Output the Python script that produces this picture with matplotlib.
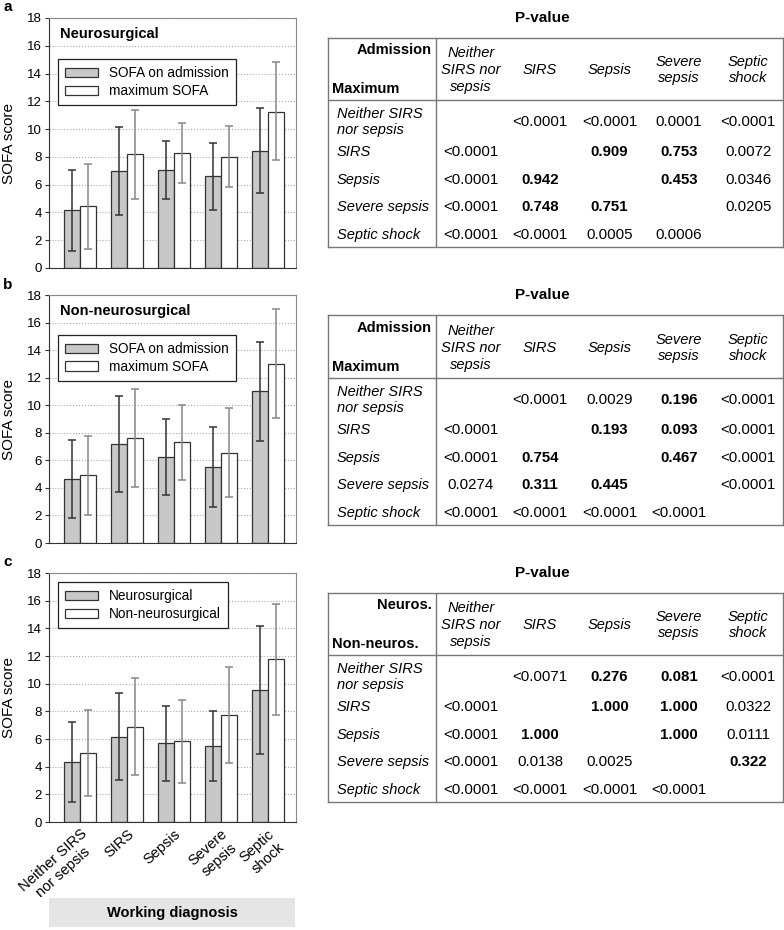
import numpy as np
import matplotlib
matplotlib.use('Agg')
import matplotlib.pyplot as plt

plt.rcParams['font.family'] = ['Liberation Sans', 'DejaVu Sans']

# categories
diagnoses = ['Neither SIRS\nnor sepsis', 'SIRS', 'Sepsis', 'Severe\nsepsis', 'Septic\nshock']
tab_labels = ['Neither\nSIRS nor\nsepsis', 'SIRS', 'Sepsis', 'Severe\nsepsis', 'Septic\nshock']
row_labels = ['Neither SIRS\nnor sepsis', 'SIRS', 'Sepsis', 'Severe sepsis', 'Septic shock']

# panel a: neurosurgical, mean and error bar ends
a_adm = [4.15, 7.0, 7.05, 6.6, 8.45]
a_adm_lo = [1.2, 3.85, 4.95, 4.2, 5.4]
a_adm_hi = [7.05, 10.15, 9.15, 9.0, 11.5]
a_max = [4.45, 8.2, 8.3, 8.0, 11.25]
a_max_lo = [1.4, 5.0, 6.1, 5.8, 7.75]
a_max_hi = [7.5, 11.4, 10.45, 10.2, 14.8]

# panel b: non-neurosurgical
b_adm = [4.65, 7.2, 6.25, 5.5, 11.0]
b_adm_lo = [1.85, 3.7, 3.5, 2.6, 7.4]
b_adm_hi = [7.45, 10.7, 9.0, 8.45, 14.6]
b_max = [4.95, 7.6, 7.3, 6.55, 13.0]
b_max_lo = [2.05, 4.1, 4.55, 3.35, 9.05]
b_max_hi = [7.8, 11.15, 10.05, 9.8, 17.0]

# panel c: neurosurgical vs non-neurosurgical
c_neu = [4.35, 6.15, 5.7, 5.5, 9.55]
c_neu_lo = [1.45, 3.05, 2.95, 2.95, 4.9]
c_neu_hi = [7.25, 9.3, 8.4, 8.0, 14.2]
c_non = [5.0, 6.9, 5.85, 7.75, 11.75]
c_non_lo = [1.9, 3.4, 2.8, 4.3, 7.7]
c_non_hi = [8.1, 10.4, 8.85, 11.2, 15.75]

# p-value tables (rows x columns), '' = diagonal
p_a = [['', '<0.0001', '<0.0001', '0.0001', '<0.0001'],
       ['<0.0001', '', '0.909', '0.753', '0.0072'],
       ['<0.0001', '0.942', '', '0.453', '0.0346'],
       ['<0.0001', '0.748', '0.751', '', '0.0205'],
       ['<0.0001', '<0.0001', '0.0005', '0.0006', '']]
p_b = [['', '<0.0001', '0.0029', '0.196', '<0.0001'],
       ['<0.0001', '', '0.193', '0.093', '<0.0001'],
       ['<0.0001', '0.754', '', '0.467', '<0.0001'],
       ['0.0274', '0.311', '0.445', '', '<0.0001'],
       ['<0.0001', '<0.0001', '<0.0001', '<0.0001', '']]
p_c = [['', '<0.0071', '0.276', '0.081', '<0.0001'],
       ['<0.0001', '', '1.000', '1.000', '0.0322'],
       ['<0.0001', '1.000', '', '1.000', '0.0111'],
       ['<0.0001', '0.0138', '0.0025', '', '0.322'],
       ['<0.0001', '<0.0001', '<0.0001', '<0.0001', '']]

W, H = 784, 930
fig = plt.figure(figsize=(W / 100, H / 100), dpi=100)


def px_axes(left, top, right, bottom):
    return fig.add_axes([left / W, 1 - bottom / H, (right - left) / W, (bottom - top) / H])


def bar_panel(ax, s1, lo1, hi1, s2, lo2, hi2, names, title, legend_y, show_x):
    x = np.arange(len(s1))
    w = 0.335
    s1 = np.array(s1); s2 = np.array(s2)
    ax.bar(x - w / 2, s1, w, color='#c8c8c8', edgecolor='#333333', linewidth=0.9, label=names[0], zorder=2)
    ax.bar(x + w / 2, s2, w, color='white', edgecolor='#333333', linewidth=0.9, label=names[1], zorder=2)
    ax.errorbar(x - w / 2, s1, yerr=[s1 - np.array(lo1), np.array(hi1) - s1], fmt='none',
                ecolor='#333333', elinewidth=1.1, capsize=3, capthick=1.1, zorder=3)
    ax.errorbar(x + w / 2, s2, yerr=[s2 - np.array(lo2), np.array(hi2) - s2], fmt='none',
                ecolor='#888888', elinewidth=1.1, capsize=3, capthick=1.1, zorder=3)
    ax.set_xlim(-0.66, 4.6)
    ax.set_ylim(0, 18)
    ax.set_yticks(np.arange(0, 19, 2))
    ax.yaxis.grid(True, linestyle=':', color='#aaaaaa', linewidth=0.8)
    ax.set_axisbelow(True)
    ax.tick_params(axis='y', labelsize=9.5, length=3, color='#333333', pad=2)
    ax.tick_params(axis='x', length=0)
    for s in ['left', 'bottom']:
        ax.spines[s].set_color('#333333')
    for s in ['top', 'right']:
        ax.spines[s].set_color('#888888')
    ax.set_ylabel('SOFA score', fontsize=11)
    ax.yaxis.set_label_coords(-0.132, 0.5)
    if show_x:
        ax.set_xticks(x)
        ax.set_xticklabels(diagnoses, rotation=42, ha='right', rotation_mode='anchor',
                           multialignment='center', fontsize=10.5)
    else:
        ax.set_xticks([])
    if title:
        ax.text(0.045, 0.935, title, transform=ax.transAxes, fontsize=10.5, fontweight='bold', va='center')
    leg = ax.legend(loc='upper left', bbox_to_anchor=(0.036, legend_y), fontsize=9.8, fancybox=False,
                    framealpha=1, edgecolor='#222222', handlelength=2.4, handleheight=0.65,
                    borderpad=0.55, labelspacing=0.25, handletextpad=0.8, borderaxespad=0)
    leg.get_frame().set_linewidth(0.9)


def p_table(top, hdr, title, corner, values):
    bottom = top + hdr + 147
    ax = px_axes(328, top, 783, bottom)
    ax.set_xlim(0, 455)
    ax.set_ylim(bottom - top, 0)
    ax.set_xticks([]); ax.set_yticks([])
    for s in ax.spines.values():
        s.set_color('#777777'); s.set_linewidth(1.0)
    ax.plot([0, 455], [hdr, hdr], color='#777777', lw=1.0)
    ax.plot([108, 108], [0, bottom - top], color='#777777', lw=1.0)
    ax.text(214, -20, title, fontsize=11, fontweight='bold', ha='center', va='center')
    ax.text(104, hdr - 50, corner[0], fontsize=10.5, fontweight='bold', ha='right', va='center')
    ax.text(4, hdr - 11, corner[1], fontsize=10.5, fontweight='bold', ha='left', va='center')
    centers = 108 + 69.4 * (np.arange(5) + 0.5)
    for cx, lab in zip(centers, tab_labels):
        ax.text(cx, hdr - 30, lab, fontsize=10.5, style='italic', ha='center', va='center',
                multialignment='center', linespacing=1.25)
    rows_y = hdr + np.array([22, 52, 80, 107, 135])
    for ry, lab, vals in zip(rows_y, row_labels, values):
        ax.text(9, ry, lab, fontsize=10.5, style='italic', ha='left', va='center', linespacing=1.2)
        for cx, v in zip(centers, vals):
            if not v:
                continue
            bold = (not v.startswith('<')) and float(v) >= 0.05
            ax.text(cx, ry, v, fontsize=10.8, ha='center', va='center',
                    fontweight='bold' if bold else 'normal')


ax_a = px_axes(49, 18, 296, 268)
bar_panel(ax_a, a_adm, a_adm_lo, a_adm_hi, a_max, a_max_lo, a_max_hi,
          ['SOFA on admission', 'maximum SOFA'], 'Neurosurgical', 0.836, False)
ax_b = px_axes(49, 295, 296, 543)
bar_panel(ax_b, b_adm, b_adm_lo, b_adm_hi, b_max, b_max_lo, b_max_hi,
          ['SOFA on admission', 'maximum SOFA'], 'Non-neurosurgical', 0.839, False)
ax_c = px_axes(49, 573, 296, 822)
bar_panel(ax_c, c_neu, c_neu_lo, c_neu_hi, c_non, c_non_lo, c_non_hi,
          ['Neurosurgical', 'Non-neurosurgical'], None, 0.964, True)

p_table(38, 62, 'P-value', ['Admission', 'Maximum'], p_a)
p_table(315, 63, 'P-value', ['Admission', 'Maximum'], p_b)
p_table(593, 62, 'P-value', ['Neuros.', 'Non-neuros.'], p_c)

# working diagnosis box
ax_w = px_axes(49, 898, 295, 927)
ax_w.set_facecolor('#e5e5e5')
ax_w.set_xticks([]); ax_w.set_yticks([])
for s in ax_w.spines.values():
    s.set_visible(False)
ax_w.text(0.5, 0.5, 'Working diagnosis', transform=ax_w.transAxes, fontsize=10.5,
          fontweight='bold', ha='center', va='center')

# panel letters
fig.text(3 / W, 1 - 7 / H, 'a', fontsize=11, fontweight='bold', va='center')
fig.text(3 / W, 1 - 285 / H, 'b', fontsize=11, fontweight='bold', va='center')
fig.text(3 / W, 1 - 562 / H, 'c', fontsize=11, fontweight='bold', va='center')

fig.savefig('out.png', dpi=100)
